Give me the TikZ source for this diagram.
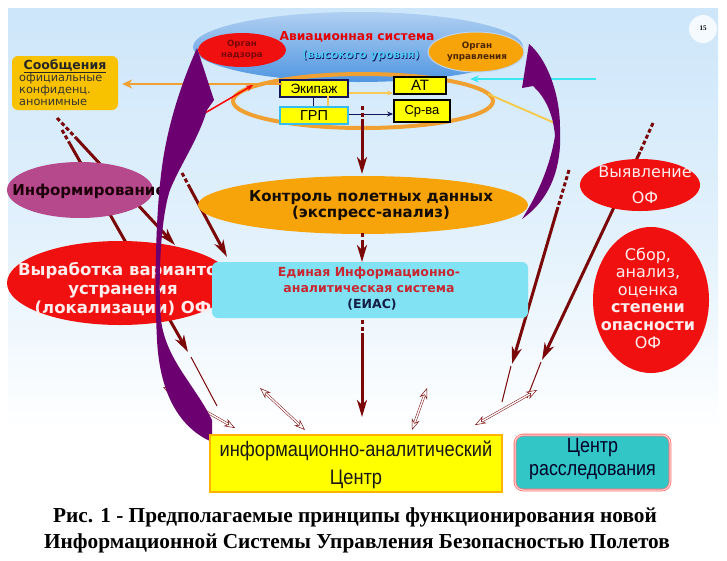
\documentclass[tikz,border=0pt]{standalone}
\usepackage{fontspec}
\setmainfont{DejaVu Sans}
\newfontfamily\arialf{Liberation Sans}
\newfontfamily\narrowf[FakeStretch=0.87]{Liberation Sans}
\newfontfamily\capf{Liberation Serif}
\usetikzlibrary{arrows.meta,calc}
\newcommand{\fsz}[2]{\fontsize{#1}{#2}\selectfont}
\definecolor{bgtop}{RGB}{205,230,250}
\definecolor{bgmid}{RGB}{228,242,252}
\definecolor{skyblue}{RGB}{80,150,225}
\definecolor{ovred}{RGB}{240,16,16}
\definecolor{ovorange}{RGB}{247,163,10}
\definecolor{ringorange}{RGB}{240,160,48}
\definecolor{lightorange}{RGB}{248,200,90}
\definecolor{darkred}{RGB}{122,8,8}
\definecolor{purp}{RGB}{108,0,112}
\definecolor{mauve}{RGB}{182,72,140}
\definecolor{eiascyan}{RGB}{128,226,242}
\definecolor{goldbox}{RGB}{248,194,0}
\definecolor{tealbox}{RGB}{50,198,198}
\definecolor{ylw}{RGB}{255,255,0}
\definecolor{navyc}{RGB}{20,20,90}
\definecolor{pinktext}{RGB}{255,236,236}
\definecolor{cyanline}{RGB}{60,230,240}
\definecolor{yline}{RGB}{245,200,70}
\definecolor{eiasred}{RGB}{200,40,50}
\definecolor{eiasdark}{RGB}{20,30,70}
\begin{document}
\begin{tikzpicture}[x=1pt,y=-1pt,
  txt/.style={inner sep=0pt, align=center},
  boxnode/.style={draw, line width=1.6pt, fill=ylw, inner sep=0pt, font=\arialf},
  drarrow/.style={draw=darkred, line width=3pt, -{Stealth[length=17pt,width=10pt,inset=5pt]}},
  drdash/.style={draw=darkred, line width=3pt, dash pattern=on 4pt off 2.5pt},
  drthin/.style={draw=darkred, line width=1pt},
  dblarrow/.style={draw=darkred, line width=0.5pt, double=white, double distance=1.4pt,
     {Stealth[length=11pt,width=8pt,fill=white]}-{Stealth[length=11pt,width=8pt,fill=white]}}
]
\fill[white] (0,0) rectangle (727,560);
\useasboundingbox (0,0) rectangle (727,560);
% slide background
\shade[top color=bgtop, bottom color=bgmid] (8,8) rectangle (718,250);
\shade[top color=bgmid, bottom color=white] (8,250) rectangle (718,430);
\fill[white, opacity=.8] (703,29) circle (14);
\node[txt] (pnum) at (703,28) {\capf\bfseries\fsz{7}{8}15};

% high-level aviation system
\shade[top color=skyblue!45!white, bottom color=skyblue] (358,47) ellipse [x radius=165, y radius=35];
\fill[ovred] (242,50) ellipse [x radius=44, y radius=17];
\node[txt, text=darkred, font=\fsz{8.6}{11}\bfseries] (nadzor) at (242,50) {Орган\\надзора};
\filldraw[fill=ovorange, draw=skyblue!40!white, line width=1pt] (476,52) ellipse [x radius=48, y radius=20];
\node[txt, text=black!70!orange, font=\fsz{8.8}{11}\bfseries] (upr) at (477,52) {Орган\\управления};
\node[txt, text=red!90!black, font=\fsz{12.3}{14}\bfseries] (avia) at (357,37) {Авиационная система};
\node[txt, text=navyc, font=\fsz{11}{13}\bfseries] (avias) at (361.8,56.8) {(высокого уровня)};
\node[txt, text=cyan!70!white, font=\fsz{11}{13}\bfseries] (avia2) at (361,56) {(высокого уровня)};

% ring
\draw[ringorange, line width=4pt] (363,101) ellipse [x radius=130, y radius=27];

% crew boxes
\node[boxnode, draw=navyc, minimum width=68pt, minimum height=17pt, font=\arialf\fsz{13.5}{14}] (ekip) at (314,88.5) {Экипаж};
\node[boxnode, draw=cyan!80!white, minimum width=68pt, minimum height=17pt, font=\arialf\fsz{14.5}{15}] (grp) at (314,115.5) {ГРП};
\node[boxnode, draw=black, line width=1.8pt, minimum width=52pt, minimum height=17pt, font=\arialf\fsz{15}{16}] (at) at (420,85.5) {АТ};
\node[boxnode, draw=black, line width=1.8pt, minimum width=56pt, minimum height=22pt, font=\arialf\fsz{13}{14}] (srva) at (422,111) {Ср-ва};
\draw[lightorange, line width=1.5pt, -{Stealth[length=6pt,width=5pt]}] ($(ekip.east)+(0,4.5)$) -- ($(at.west)+(0,7.5)$);
\draw[navyc, line width=1pt, -{Stealth[length=6pt,width=5pt]}] ($(grp.east)+(0,-1.5)$) -- ($(srva.west)+(0,3)$);
\draw[navyc, line width=1pt] ($(ekip.south)+(-1,0)$) -- ($(grp.north)+(-1,0)$);
\draw[lightorange, line width=1.5pt] ($(ekip.south)+(14,-2)$) -- ($(grp.north)+(14,0)$);

% messages box
\node[fill=goldbox, rounded corners=6pt, minimum width=106pt, minimum height=54pt, inner sep=0pt] (soob) at (65,83) {};
\node[txt, font=\fsz{12.5}{14}\bfseries, text=black!85] (soobT) at (65,66) {\underline{Сообщения}};
\node[txt, anchor=north west, align=left, font=\fsz{11.3}{12}, text=black!80] (soobB) at (19,73.5) {официальные\\конфиденц.\\анонимные};

% arrows around the top
\coordinate (orgL) at (282,84);
\draw[ringorange, line width=2.5pt, -{Stealth[length=10pt,width=9pt]}] (orgL) -- ($(soob.east)+(4,1)$);
\coordinate (cyS) at (596,79);
\coordinate (cyE) at (470,79);
\draw[cyanline, line width=1.8pt, -{Stealth[length=9pt,width=7pt]}] (cyS) -- (cyE);
\coordinate (ylS) at (488,94);
\coordinate (ylE) at (557,124);
\draw[yline, line width=1.8pt] (ylS) -- (ylE);
\coordinate (rdS) at (205,113);
\coordinate (rdE) at (253,85);
\draw[red, line width=1.5pt, -{Stealth[length=7pt,width=6pt]}] (rdS) -- (rdE);

% long dark red arrows (behind ovals)
\coordinate (a0) at (57,118); \coordinate (a1) at (76,138); \coordinate (a2) at (175,245);
\draw[drdash] (a0) -- (a1); \draw[drarrow] (a1) -- (a2);
\coordinate (b0) at (62,130); \coordinate (b1) at (70,144); \coordinate (b2) at (188,352);
\draw[drdash] (b0) -- (b1); \draw[drarrow] (b1) -- (b2);
\coordinate (b3) at (191,357); \coordinate (b4) at (217,406);
\draw[drthin] (b3) -- (b4);
\coordinate (c0) at (182,173); \coordinate (c1) at (190,188); \coordinate (c2) at (227,257);
\draw[drdash] (c0) -- (c1); \draw[drarrow] (c1) -- (c2);
\coordinate (d0) at (569,170); \coordinate (d1) at (558,207); \coordinate (d2) at (512,364);
\coordinate (d3) at (511,366); \coordinate (d4) at (502,402);
\draw[drdash] (d0) -- (d1); \draw[drarrow] (d1) -- (d2); \draw[drthin] (d3) -- (d4);
\coordinate (e0) at (653,123); \coordinate (e1) at (640,152); \coordinate (e2) at (542,360);
\coordinate (e3) at (541,362); \coordinate (e4) at (527,398);
\draw[drdash] (e0) -- (e1); \draw[drarrow] (e1) -- (e2); \draw[drthin] (e3) -- (e4);

% ovals
\fill[mauve] (80,190) ellipse [x radius=73, y radius=28];
\node[txt, text=black!85!purple, font=\fsz{15}{17}\bfseries] (inform) at (89,191) {Информирование};
\fill[ovred] (120,283) ellipse [x radius=113, y radius=42];
\node[txt, text=pinktext, font=\fsz{16.5}{19}\bfseries] (vyrab) at (123,289) {Выработка вариантов\\устранения\\(локализации) ОФ};
\fill[ovorange] (363,205) ellipse [x radius=165, y radius=29];
\node[txt, text=black!90!brown, font=\fsz{15}{16}\bfseries] (kontrol) at (371,206) {Контроль полетных данных\\(экспресс-анализ)};
\node[fill=eiascyan, rounded corners=6pt, minimum width=316pt, minimum height=56pt, inner sep=0pt] (eias) at (370,290) {};
\node[txt, text=eiasred, font=\fsz{12.5}{16.5}\bfseries] (eiasT) at (369,280) {Единая Информационно-\\аналитическая система};
\node[txt, text=eiasdark, font=\fsz{12.5}{14}\bfseries] (eiasA) at (372,305) {(ЕИАС)};
\fill[ovred] (640,185) ellipse [x radius=60, y radius=26];
\node[txt, text=pinktext, font=\fsz{16}{26}] (vyyav) at (645,185) {Выявление\\ОФ};
\fill[ovred] (651,300) ellipse [x radius=58, y radius=73];
\node[txt, text=pinktext, font=\fsz{16}{17.6}] (sbor) at (648,298) {Сбор,\\анализ,\\оценка\\\textbf{степени}\\\textbf{опасности}\\ОФ};

% double-headed arrows (left one goes behind the purple arrow)
\coordinate (p1) at (163,387); \coordinate (q1) at (235,428);
\draw[dblarrow] (p1) -- (q1);

% purple curved arrows
\fill[purp] (197,48) -- (214,100) -- (207,110)
  .. controls (198,140) and (180,165) .. (170,190)
  .. controls (160,220) and (158,285) .. (161,320)
  .. controls (166,360) and (195,385) .. (212,420)
  -- (212,442)
  .. controls (180,428) and (160,395) .. (157,340)
  .. controls (154,280) and (156,205) .. (163,160)
  .. controls (170,115) and (185,75) .. cycle;
\fill[purp] (529,44) .. controls (546,58) and (560,92) .. (560,128)
  .. controls (562,165) and (552,198) .. (522,219)
  .. controls (534,200) and (549,172) .. (555,136)
  .. controls (553,112) and (544,96) .. (533,86)
  -- (522,88) -- cycle;

% central vertical arrows
\coordinate (v0) at (362,106); \coordinate (v1) at (362,120); \coordinate (v2) at (362,174);
\draw[drdash] (v0) -- (v1); \draw[drarrow] (v1) -- (v2);
\coordinate (w0) at (362,233); \coordinate (w1) at (362,241); \coordinate (w2) at (362,262);
\draw[drdash] (w0) -- (w1); \draw[drarrow] (w1) -- (w2);
\coordinate (u0) at (362,320); \coordinate (u1) at (362,334); \coordinate (u2) at (362,417);
\draw[drdash] (u0) -- (u1); \draw[drarrow] (u1) -- (u2);

\coordinate (p2) at (260,388); \coordinate (q2) at (305,430);
\draw[dblarrow] (p2) -- (q2);
\coordinate (p3) at (427,388); \coordinate (q3) at (412,430);
\draw[dblarrow] (p3) -- (q3);
\coordinate (p4) at (537,390); \coordinate (q4) at (475,425);
\draw[dblarrow] (p4) -- (q4);

% bottom boxes
\node[fill=ylw, draw=brown!80!orange, line width=0.5pt, double=orange!60!yellow, double distance=1.2pt,
      minimum width=292pt, minimum height=57pt, inner sep=0pt] (iac) at (356,463.5) {};
\node[txt, font=\narrowf\fsz{21}{28}, text=black!90] (iacT) at (356,465) {информационно-аналитический\\Центр};
\node[fill=tealbox, draw=red!55!white, line width=0.8pt, double=pink!60!white, double distance=1pt,
      rounded corners=8pt, minimum width=155pt, minimum height=55pt, inner sep=0pt] (rassl) at (592.5,462.5) {};
\node[txt, font=\narrowf\fsz{20.5}{23}, text=black!85!blue] (rasslT) at (592.5,459) {Центр\\расследования};

% caption
\node[txt, font=\capf\bfseries\fsz{21.3}{23}] (cap1) at (355,517) {Рис. 1 - Предполагаемые принципы функционирования новой};
\node[txt, font=\capf\bfseries\fsz{21.3}{23}] (cap2) at (357,543) {Информационной Системы Управления Безопасностью Полетов};
\end{tikzpicture}
\end{document}
